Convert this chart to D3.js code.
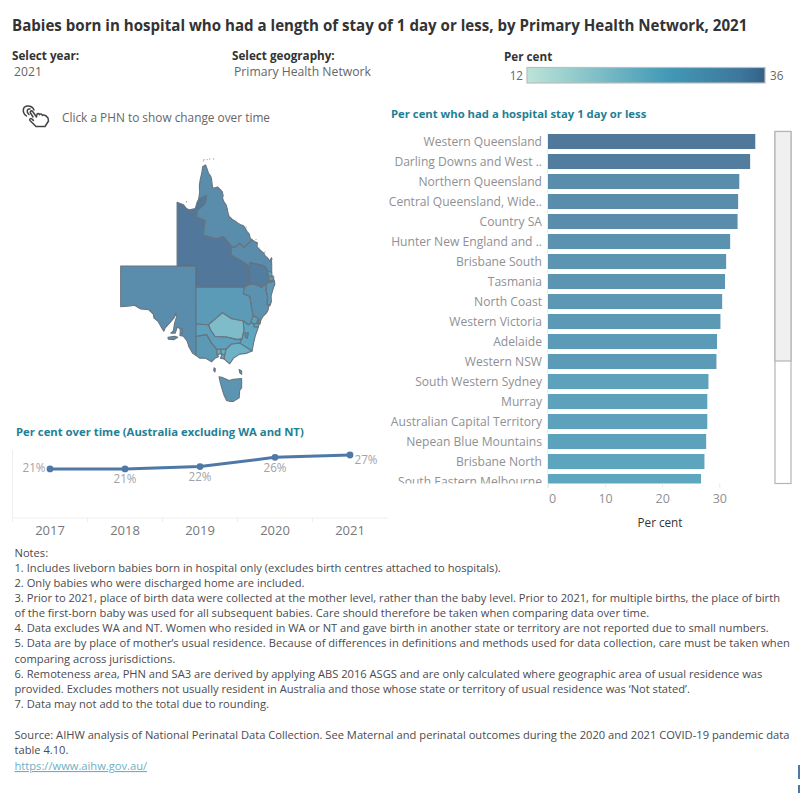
<!DOCTYPE html>
<html>
<head>
<meta charset="utf-8">
<script src="https://d3js.org/d3.v7.min.js"></script>
<style>
  html, body { margin: 0; padding: 0; background: #fff; }
  svg { display: block; }
  text { font-family: "Open Sans", sans-serif; }
</style>
</head>
<body>
<svg id="chart" width="800" height="800"></svg>
<script>
// PHN ranking, in per cent, for the visible part of the scrolling list
const phnNames = [
  "Western Queensland", "Darling Downs and West ..", "Northern Queensland",
  "Central Queensland, Wide..", "Country SA", "Hunter New England and ..",
  "Brisbane South", "Tasmania", "North Coast", "Western Victoria", "Adelaide",
  "Western NSW", "South Western Sydney", "Murray", "Australian Capital Territory",
  "Nepean Blue Mountains", "Brisbane North", "South Eastern Melbourne"
];
const phnValues = [36.3, 35.4, 33.5, 33.3, 33.2, 31.9, 31.2, 31.0, 30.5, 30.2, 29.6, 29.5, 28.1, 27.9, 27.9, 27.7, 27.4, 26.8];
const barTicks = [0, 10, 20, 30];

// National series
const years = ["2017", "2018", "2019", "2020", "2021"];
const yearValues = [21, 21, 22, 26, 27];

// Colour legend range
const legendDomain = [12, 36];

const noteLines = [
  "Notes:",
  "1. Includes liveborn babies born in hospital only (excludes birth centres attached to hospitals).",
  "2. Only babies who were discharged home are included.",
  "3. Prior to 2021, place of birth data were collected at the mother level, rather than the baby level. Prior to 2021, for multiple births, the place of birth",
  "of the first-born baby was used for all subsequent babies. Care should therefore be taken when comparing data over time.",
  "4. Data excludes WA and NT. Women who resided in WA or NT and gave birth in another state or territory are not reported due to small numbers.",
  "5. Data are by place of mother\u2019s usual residence. Because of differences in definitions and methods used for data collection, care must be taken when",
  "comparing across jurisdictions.",
  "6. Remoteness area, PHN and SA3 are derived by applying ABS 2016 ASGS and are only calculated where geographic area of usual residence was",
  "provided. Excludes mothers not usually resident in Australia and those whose state or territory of usual residence was \u2018Not stated\u2019.",
  "7. Data may not add to the total due to rounding."
];
const sourceLines = [
  "Source: AIHW analysis of National Perinatal Data Collection. See Maternal and perinatal outcomes during the 2020 and 2021 COVID-19 pandemic data",
  "table 4.10."
];

// Simplified PHN outlines as [longitude, latitude] rings, each with its per cent value
const phnShapes = [
  { v: 33.2, rings: [[[129,-26],[141,-26],[141,-38.05],[140.5,-37.8],[139.9,-37],[139.6,-36.2],[139,-35.6],[138.45,-35.5],[138.5,-35.25],[138.85,-35.2],[138.8,-34.6],[138.45,-34.6],[138.05,-34.4],[137.7,-35.2],[137,-35.2],[137.4,-34.9],[137.6,-33.9],[137.9,-33.1],[137.8,-32.5],[137.5,-33.2],[136.9,-33.8],[136.1,-34.5],[135.9,-34.95],[135.6,-34.6],[135,-33.7],[134.3,-33.2],[134.2,-32.7],[133.5,-32.1],[132.2,-32],[131.2,-31.5],[130.5,-31.6],[129,-31.7]],
    [[136.55,-35.75],[137.6,-35.6],[138.1,-35.75],[137.5,-36.05],[136.6,-36]]] },
  { v: 29.6, rings: [[[138.45,-34.6],[138.8,-34.6],[138.85,-35.2],[138.5,-35.25],[138.5,-34.9]]] },
  { v: 36.3, rings: [[[138,-16.55],[139,-16.9],[139.5,-17.5],[140,-17.7],[140.9,-17.5],[141.2,-16.5],[141.44,-16.07],[142.71,-15.5],[142.5,-16.7],[141.2,-17.8],[141.1,-18.8],[142.45,-19.3],[142.2,-21.5],[144.3,-22.05],[145.4,-21.7],[146.7,-23.2],[146.6,-24.4],[149.1,-25.7],[149.45,-26.3],[149.45,-28.4],[148.7,-29],[141,-29],[141,-26],[138,-26]]] },
  { v: 33.5, rings: [[[141.44,-16.07],[141.6,-15],[141.55,-14],[141.7,-13],[141.9,-12.2],[142.1,-11],[142.55,-10.75],[142.8,-11.4],[143,-12],[143.4,-12.6],[143.5,-13],[143.6,-13.8],[143.7,-14.4],[144.5,-14.2],[145.2,-14.9],[145.35,-15.5],[145.25,-15.9],[145.5,-16.5],[145.8,-16.9],[146,-17.5],[146.1,-18.1],[146.3,-18.7],[146.9,-19.2],[147.3,-19.4],[147.7,-19.7],[148.3,-20],[148.6,-20.1],[148.9,-20.5],[149.2,-21],[149.5,-21.3],[149.7,-22],[150,-22.2],[148.7,-23.3],[148,-22.7],[147.2,-23.3],[146.7,-23.2],[145.4,-21.7],[144.3,-22.05],[142.2,-21.5],[142.45,-19.3],[141.1,-18.8],[141.2,-17.8],[142.5,-16.7],[142.71,-15.5]]] },
  { v: 33.3, rings: [[[150,-22.2],[150.5,-22.5],[150.8,-22.6],[150.75,-23.2],[151,-23.5],[151.5,-23.9],[151.8,-24.1],[152.1,-24.6],[152.4,-24.8],[152.8,-25.3],[153.05,-24.8],[153.1,-25.9],[153.1,-26.9],[152.45,-26.7],[152.1,-26.1],[151.5,-25.85],[149.6,-25.5],[149.45,-26.3],[149.1,-25.7],[146.6,-24.4],[146.7,-23.2],[147.2,-23.3],[148,-22.7],[148.7,-23.3]]] },
  { v: 35.4, rings: [[[149.45,-26.3],[149.6,-25.5],[151.5,-25.85],[152.1,-26.1],[152.45,-26.7],[152.6,-27.5],[152.6,-27.9],[152.9,-28.2],[152.3,-28.4],[151.9,-28.75],[151.4,-29],[151,-28.8],[150.4,-28.6],[149.6,-28.6],[148.7,-29],[149.45,-28.4]]] },
  { v: 27.4, rings: [[[152.45,-26.7],[153.1,-26.9],[153.15,-27.45],[152.6,-27.5]]] },
  { v: 31.2, rings: [[[152.6,-27.5],[153.15,-27.45],[153.4,-27.45],[153.42,-27.95],[152.9,-28.2],[152.6,-27.9]]] },
  { v: 28.5, rings: [[[152.9,-28.2],[153.42,-27.95],[153.55,-28.16],[152.3,-28.4]]] },
  { v: 30.5, rings: [[[152.3,-28.4],[153.55,-28.16],[153.6,-28.6],[153.4,-29],[153.2,-29.6],[153,-30.2],[153.05,-31],[152.85,-31.45],[152.35,-31.4],[152.45,-30.3],[152.2,-29.5]]] },
  { v: 31.9, rings: [[[148.7,-29],[149.6,-28.6],[150.4,-28.6],[151,-28.8],[151.4,-29],[151.9,-28.75],[152.3,-28.4],[152.2,-29.5],[152.45,-30.3],[152.35,-31.4],[152.85,-31.45],[152.6,-31.7],[152.5,-32.2],[152.2,-32.6],[151.7,-33],[151.35,-33.5],[150.9,-33.5],[150.9,-33.2],[150.15,-32.9],[149.9,-31.9],[149.6,-30.3],[148.56,-29.9]]] },
  { v: 29.5, rings: [[[141,-29],[148.7,-29],[148.56,-29.9],[149.6,-30.3],[149.9,-31.9],[150.15,-32.9],[149.8,-33.6],[149.9,-33.8],[149.36,-34.1],[148.55,-33.6],[146.7,-33.3],[145.25,-32.5],[144.3,-33.2],[143,-34.1],[141,-34]]] },
  { v: 27.7, rings: [[[150.15,-32.9],[150.9,-33.2],[150.9,-33.5],[150.75,-33.9],[150.2,-34],[149.9,-33.8],[149.8,-33.6]]] },
  { v: 25.5, rings: [[[150.9,-33.5],[151.35,-33.5],[151.28,-33.85],[151,-33.8]]] },
  { v: 26.5, rings: [[[150.75,-33.6],[151,-33.6],[151,-33.9],[150.75,-33.9]]] },
  { v: 25.5, rings: [[[151,-33.85],[151.28,-33.85],[151.2,-34.05],[151,-34]]] },
  { v: 28.1, rings: [[[150.2,-34],[150.75,-33.9],[151.05,-34],[151,-34.35],[150.3,-34.4]]] },
  { v: 26.5, rings: [[[148.67,-34.8],[148.55,-33.6],[149.36,-34.1],[149.9,-33.8],[150.2,-34],[150.3,-34.4],[151,-34.35],[150.9,-34.6],[150.5,-35.5],[150.2,-36.5],[149.97,-37.5],[148,-36.5],[148.35,-35.95]]] },
  { v: 27.9, rings: [[[148.8,-35.15],[149.4,-35.15],[149.2,-35.9],[148.85,-35.7]]] },
  { v: 21.8, rings: [[[143,-34.1],[144.3,-33.2],[145.25,-32.5],[146.7,-33.3],[148.55,-33.6],[148.67,-34.8],[148.35,-35.95],[147.6,-36.05],[145.9,-35.7],[144.05,-35.65],[143.35,-34.8]]] },
  { v: 27.9, rings: [[[141,-34],[143,-34.1],[143.35,-34.8],[144.05,-35.65],[145.9,-35.7],[147.6,-36.05],[148.35,-35.95],[148,-36.5],[146.7,-36.6],[145.8,-37.3],[145,-37.3],[144.3,-37.3],[143.5,-36.5],[142.7,-35.4],[141,-35.65]]] },
  { v: 30.2, rings: [[[141,-35.65],[142.7,-35.4],[143.5,-36.5],[144.3,-37.3],[144.4,-38],[144.65,-38.2],[144,-38.45],[143.5,-38.85],[142.5,-38.4],[141.6,-38.4],[141,-38.05]]] },
  { v: 24, rings: [[[148,-36.5],[149.97,-37.5],[149,-37.8],[148,-37.9],[147,-38.4],[146.4,-39.1],[146,-38.85],[145.5,-38.5],[145.6,-38],[145.8,-37.3],[146.7,-36.6]]] },
  { v: 25, rings: [[[144.3,-37.3],[145,-37.3],[145,-37.85],[144.9,-37.85],[144.4,-38]]] },
  { v: 24.5, rings: [[[145,-37.3],[145.8,-37.3],[145.6,-38],[145,-37.85]]] },
  { v: 26.8, rings: [[[145,-37.85],[145.6,-38],[145.5,-38.5],[144.9,-38.4],[145.1,-38.1]]] },
  { v: 31.0, rings: [[[144.7,-40.7],[145.3,-40.8],[146.3,-41.15],[147,-41],[148.3,-40.9],[148.3,-42],[148,-42.3],[147.9,-43.2],[147,-43.6],[146.5,-43.6],[145.9,-43.5],[145.5,-42.9],[145.2,-42.2],[144.9,-41.4]],
    [[147.9,-39.8],[148.3,-40],[148.3,-40.4],[148,-40.2]],
    [[143.9,-39.6],[144.1,-39.7],[144.05,-40.1],[143.85,-39.95]]] }
];

// Small offshore islands, drawn as specks along the coast
const islandSpecks = [
  [142.2,-10.1],[142.3,-9.9],[142.8,-9.9],[143.2,-9.8],[143.8,-9.8],[139.5,-16.45],
  [146.2,-18.2],[149,-20.3],[150.6,-22.1],[151.1,-23.4],[152,-24],[153.2,-25],[153.4,-27.5]
];

const outlineColor = "#69747f", titleTeal = "#1f7f96", mutedText = "#8f9094", darkText = "#333333", noteText = "#4a4a4f";

const svg = d3.select("#chart");

// Shared sequential colour: marks sit at 85% opacity over the white page
const colorScale = d3.scaleLinear().domain([12, 26, 33.5, 36]).range(["#bde4d8", "#429ab7", "#3d789c", "#33608a"]).clamp(true);

function label(x, y, str, size, fill, opts = {}) {
  return svg.append("text").attr("x", x).attr("y", y).text(str)
    .attr("font-size", size).attr("fill", fill)
    .attr("font-weight", opts.weight || 400)
    .attr("text-anchor", opts.anchor || "start");
}

// Headings and selectors
label(12, 30.5, "Babies born in hospital who had a length of stay of 1 day or less, by Primary Health Network, 2021", 15.1, darkText, { weight: 700 });
label(12, 60, "Select year:", 11.7, darkText, { weight: 700 });
label(14, 76, "2021", 12.2, "#666");
label(232, 60, "Select geography:", 11.7, darkText, { weight: 700 });
label(234, 76, "Primary Health Network", 12.2, "#666");
label(504, 61, "Per cent", 11.7, darkText, { weight: 700 });
label(62, 122, "Click a PHN to show change over time", 11.85, "#666");
label(391, 118, "Per cent who had a hospital stay 1 day or less", 11.3, titleTeal, { weight: 700 });
label(16, 436, "Per cent over time (Australia excluding WA and NT)", 11.3, titleTeal, { weight: 700 });

// Hand pointer icon
const hand = svg.append("g").attr("transform", "translate(22,105)")
  .attr("fill", "none").attr("stroke", "#444").attr("stroke-width", 1.5)
  .attr("stroke-linejoin", "round").attr("stroke-linecap", "round");
hand.append("path").attr("d", "M11 12 L8.5 8 C7.5 6 10 5 11 7 L14.5 12 L15 9 C16 8 17 8.6 17.4 9.6 L18 9 C19 8.6 20 9.4 20.4 10.4 L21 10 C23 9.6 25 11.5 26 13 L26.5 16 L23 21.5 L14 21.5 L8 15.5 C7 14 8.8 12.8 10 14 L11.4 15.4");
hand.append("path").attr("d", "M4.5 11 C0 8 0 1 6 1 C9 1 11 2.5 12 5 M7 9.5 C4 7 5 3.5 8 4");

// Legend ramp
const defs = svg.append("defs");
const ramp = defs.append("linearGradient").attr("id", "legendRamp");
d3.range(0, 1.001, 0.1).forEach(t => {
  ramp.append("stop").attr("offset", t).attr("stop-color", colorScale(legendDomain[0] + t * (legendDomain[1] - legendDomain[0])));
});
svg.append("rect").attr("x", 527).attr("y", 67.5).attr("width", 238).attr("height", 15.5)
  .attr("fill", "url(#legendRamp)").attr("stroke", "#bdbdbd").attr("stroke-width", 1.2);
label(523, 80, legendDomain[0], 11.7, "#666", { anchor: "end" });
label(770, 80, legendDomain[1], 11.7, "#666");

// Map
const projection = d3.geoMercator().scale(359).center([129, -26]).translate([120.7, 266]);
const ringPath = d3.line().curve(d3.curveLinearClosed);
svg.append("g").selectAll("path").data(phnShapes).join("path")
  .attr("d", d => d.rings.map(r => ringPath(r.map(projection))).join(""))
  .attr("fill", d => colorScale(d.v)).attr("fill-opacity", 0.85)
  .attr("stroke", outlineColor).attr("stroke-width", 1.1).attr("stroke-linejoin", "round");
svg.append("g").selectAll("circle").data(islandSpecks).join("circle")
  .attr("cx", d => projection(d)[0]).attr("cy", d => projection(d)[1])
  .attr("r", 0.6).attr("fill", "#8d9aa5");

// Ranked bars, clipped to the scrolling viewport
const barLeft = 548, barTop = 131.5, barBottom = 483.5;
const xBar = d3.scaleLinear().domain([0, 30]).range([barLeft, 719.3]);
const yBar = d3.scaleBand().domain(phnNames).range([barTop, barTop + 20 * phnNames.length]).paddingInner(0.25).paddingOuter(0.125);
defs.append("clipPath").attr("id", "barView").append("rect")
  .attr("x", 380).attr("y", barTop).attr("width", 400).attr("height", barBottom - barTop);
const barView = svg.append("g").attr("clip-path", "url(#barView)");
barView.selectAll("rect").data(phnNames).join("rect")
  .attr("x", barLeft).attr("y", d => yBar(d)).attr("height", yBar.bandwidth())
  .attr("width", (d, i) => xBar(phnValues[i]) - barLeft)
  .attr("fill", (d, i) => colorScale(phnValues[i])).attr("fill-opacity", 0.85);
barView.selectAll("text").data(phnNames).join("text")
  .attr("x", 542).attr("y", d => yBar(d) + yBar.bandwidth() / 2 + 4.5)
  .attr("text-anchor", "end").attr("font-size", 12.1).attr("fill", mutedText).text(d => d);

svg.append("line").attr("x1", 547.5).attr("x2", 547.5).attr("y1", barTop).attr("y2", barBottom + 4).attr("stroke", "#eeeeee");
const barAxis = svg.append("g").attr("transform", `translate(0,${barBottom})`)
  .call(d3.axisBottom(xBar).tickValues(barTicks).tickSize(4).tickPadding(7));
barAxis.select(".domain").remove();
barAxis.selectAll("line").attr("stroke", "#e8e8e8");
barAxis.selectAll("text").attr("font-size", 12.5).attr("fill", mutedText).style("font-family", '"Open Sans", sans-serif');
barAxis.selectAll(".tick").filter(d => d === 0).select("text").attr("dx", 4);
label(660, 527, "Per cent", 11.7, darkText, { anchor: "middle" });

// List scrollbar
svg.append("rect").attr("x", 775).attr("y", 131.5).attr("width", 16).attr("height", 352)
  .attr("fill", "#fff").attr("stroke", "#b4b4b4").attr("stroke-width", 1.2);
svg.append("rect").attr("x", 775).attr("y", 131.5).attr("width", 16).attr("height", 229.5)
  .attr("fill", "#f0f0f0").attr("stroke", "#b4b4b4").attr("stroke-width", 1.2);

// National line
const xYear = d3.scaleBand().domain(years).range([12.5, 387.5]);
const yYear = d3.scaleLinear().domain([0, 27]).range([517.5, 455]);
const yearAxis = svg.append("g").attr("transform", "translate(0,517.5)")
  .call(d3.axisBottom(xYear).tickSize(0).tickPadding(8));
yearAxis.select(".domain").attr("stroke", "#eeeeee");
yearAxis.selectAll("text").attr("font-size", 13).attr("fill", "#77777c").style("font-family", '"Open Sans", sans-serif');
svg.append("g").selectAll("line").data(years).join("line")
  .attr("x1", d => xYear(d)).attr("x2", d => xYear(d)).attr("y1", 517.5).attr("y2", 522)
  .attr("stroke", "#eeeeee");
svg.append("line").attr("x1", 12.5).attr("x2", 12.5).attr("y1", 450).attr("y2", 517.5).attr("stroke", "#eeeeee");

const yearX = d => xYear(d) + xYear.bandwidth() / 2;
const trend = d3.line().x(d => yearX(d)).y((d, i) => yYear(yearValues[i]));
svg.append("path").attr("d", trend(years)).attr("fill", "none")
  .attr("stroke", "#4e79a7").attr("stroke-width", 3).attr("stroke-linejoin", "round");
svg.append("g").selectAll("circle").data(years).join("circle")
  .attr("cx", yearX).attr("cy", (d, i) => yYear(yearValues[i])).attr("r", 3.4).attr("fill", "#4e79a7");

// Point labels sit left of the first point, right of the last, below the others
const pct = d3.format(".0f");
svg.append("g").selectAll("text").data(years).join("text")
  .attr("x", (d, i) => yearX(d) + (i === 0 ? -16 : i === years.length - 1 ? 16 : 0))
  .attr("y", (d, i) => yYear(yearValues[i]) + (i === 0 ? 3 : i === years.length - 1 ? 9 : 14.5))
  .attr("text-anchor", "middle").attr("font-size", 11.7).attr("fill", "#a3a3a6")
  .text((d, i) => pct(yearValues[i]) + "%");

// Notes block
const noteRows = [553, 567.5, 583, 598, 613, 628, 643, 659, 674, 689, 704];
noteLines.forEach((t, i) => label(14.5, noteRows[i] + 4, t, 11.15, noteText));
sourceLines.forEach((t, i) => label(14.5, 739 + i * 15, t, 11.15, noteText));
label(14.5, 770, "https://www.aihw.gov.au/", 11.15, "#6db0c5").attr("text-decoration", "underline");

// Edge markers at the lower right
svg.append("rect").attr("x", 798).attr("y", 765).attr("width", 2).attr("height", 14).attr("fill", "#4e79a7");
svg.append("rect").attr("x", 798).attr("y", 785).attr("width", 2).attr("height", 8).attr("fill", "#4e79a7");
</script>
</body>
</html>
